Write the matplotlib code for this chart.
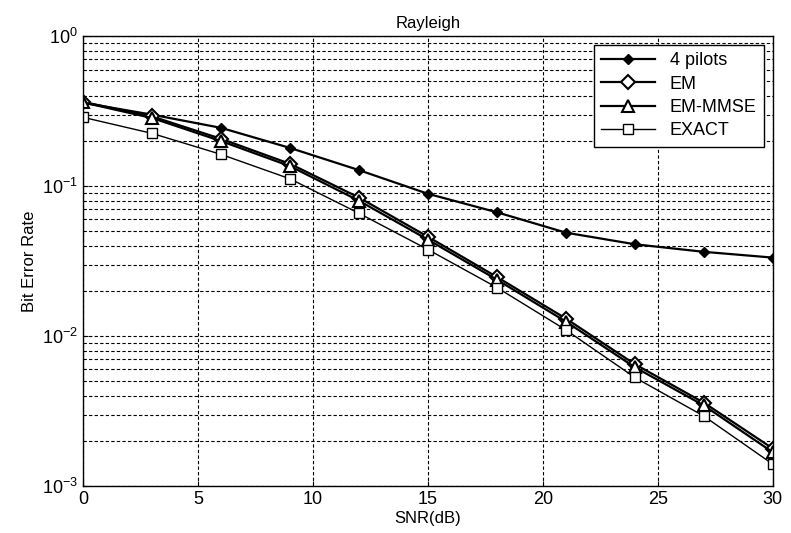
import matplotlib
matplotlib.use("Agg")
import matplotlib.pyplot as plt
from matplotlib.ticker import LogLocator, NullFormatter

plt.rcParams['font.family'] = ['Liberation Sans', 'DejaVu Sans']

snr = [0, 3, 6, 9, 12, 15, 18, 21, 24, 27, 30]
pilots4 = [0.36, 0.30, 0.245, 0.180, 0.128, 0.089, 0.067, 0.049, 0.041, 0.0365, 0.0334]
em = [0.365, 0.292, 0.207, 0.141, 0.084, 0.0460, 0.0248, 0.0131, 0.0065, 0.0036, 0.00178]
em_mmse = [0.362, 0.285, 0.200, 0.136, 0.080, 0.0440, 0.0238, 0.0125, 0.0062, 0.00345, 0.00168]
exact = [0.288, 0.225, 0.163, 0.112, 0.066, 0.0378, 0.0211, 0.0110, 0.0053, 0.00293, 0.0014]

fig = plt.figure(figsize=(7.91, 5.33), dpi=100)
ax = fig.add_axes([0.105, 0.088, 0.872, 0.844])

ax.semilogy(snr, pilots4, '-', color='black', lw=1.6, marker='D', ms=5,
            mfc='black', mec='black', label='4 pilots')
ax.semilogy(snr, em, '-', color='black', lw=1.6, marker='D', ms=7,
            mfc='white', mec='black', mew=1.5, label='EM')
ax.semilogy(snr, em_mmse, '-', color='black', lw=1.6, marker='^', ms=8,
            mfc='white', mec='black', mew=1.5, label='EM-MMSE')
ax.semilogy(snr, exact, '-', color='black', lw=1.0, marker='s', ms=7,
            mfc='white', mec='black', mew=1.0, label='EXACT')

ax.set_xlim(0, 30)
ax.set_ylim(1e-3, 1)
ax.set_xticks([0, 5, 10, 15, 20, 25, 30])
ax.yaxis.set_major_locator(LogLocator(base=10, numticks=10))
ax.yaxis.set_minor_locator(LogLocator(base=10, subs=range(2, 10), numticks=20))
ax.yaxis.set_minor_formatter(NullFormatter())
ax.grid(True, which='major', axis='both', color='black', ls=(0, (3, 2)), lw=0.8)
ax.grid(True, which='minor', axis='y', color='black', ls=(0, (3, 2)), lw=0.8)
ax.tick_params(axis='both', which='both', direction='in', labelsize=13)
ax.tick_params(axis='y', which='minor', length=2)
for s in ax.spines.values():
    s.set_color('black')
    s.set_linewidth(1.0)

ax.set_title('Rayleigh', fontsize=12)
ax.set_xlabel('SNR(dB)', fontsize=12, labelpad=2)
ax.set_ylabel('Bit Error Rate', fontsize=12)

leg = ax.legend(loc='upper right', fontsize=13, frameon=True, fancybox=False,
                edgecolor='black', framealpha=1, borderaxespad=0.5,
                handlelength=3.0, labelspacing=0.35)
leg.get_frame().set_linewidth(1.0)

fig.savefig('out.png', dpi=100)
